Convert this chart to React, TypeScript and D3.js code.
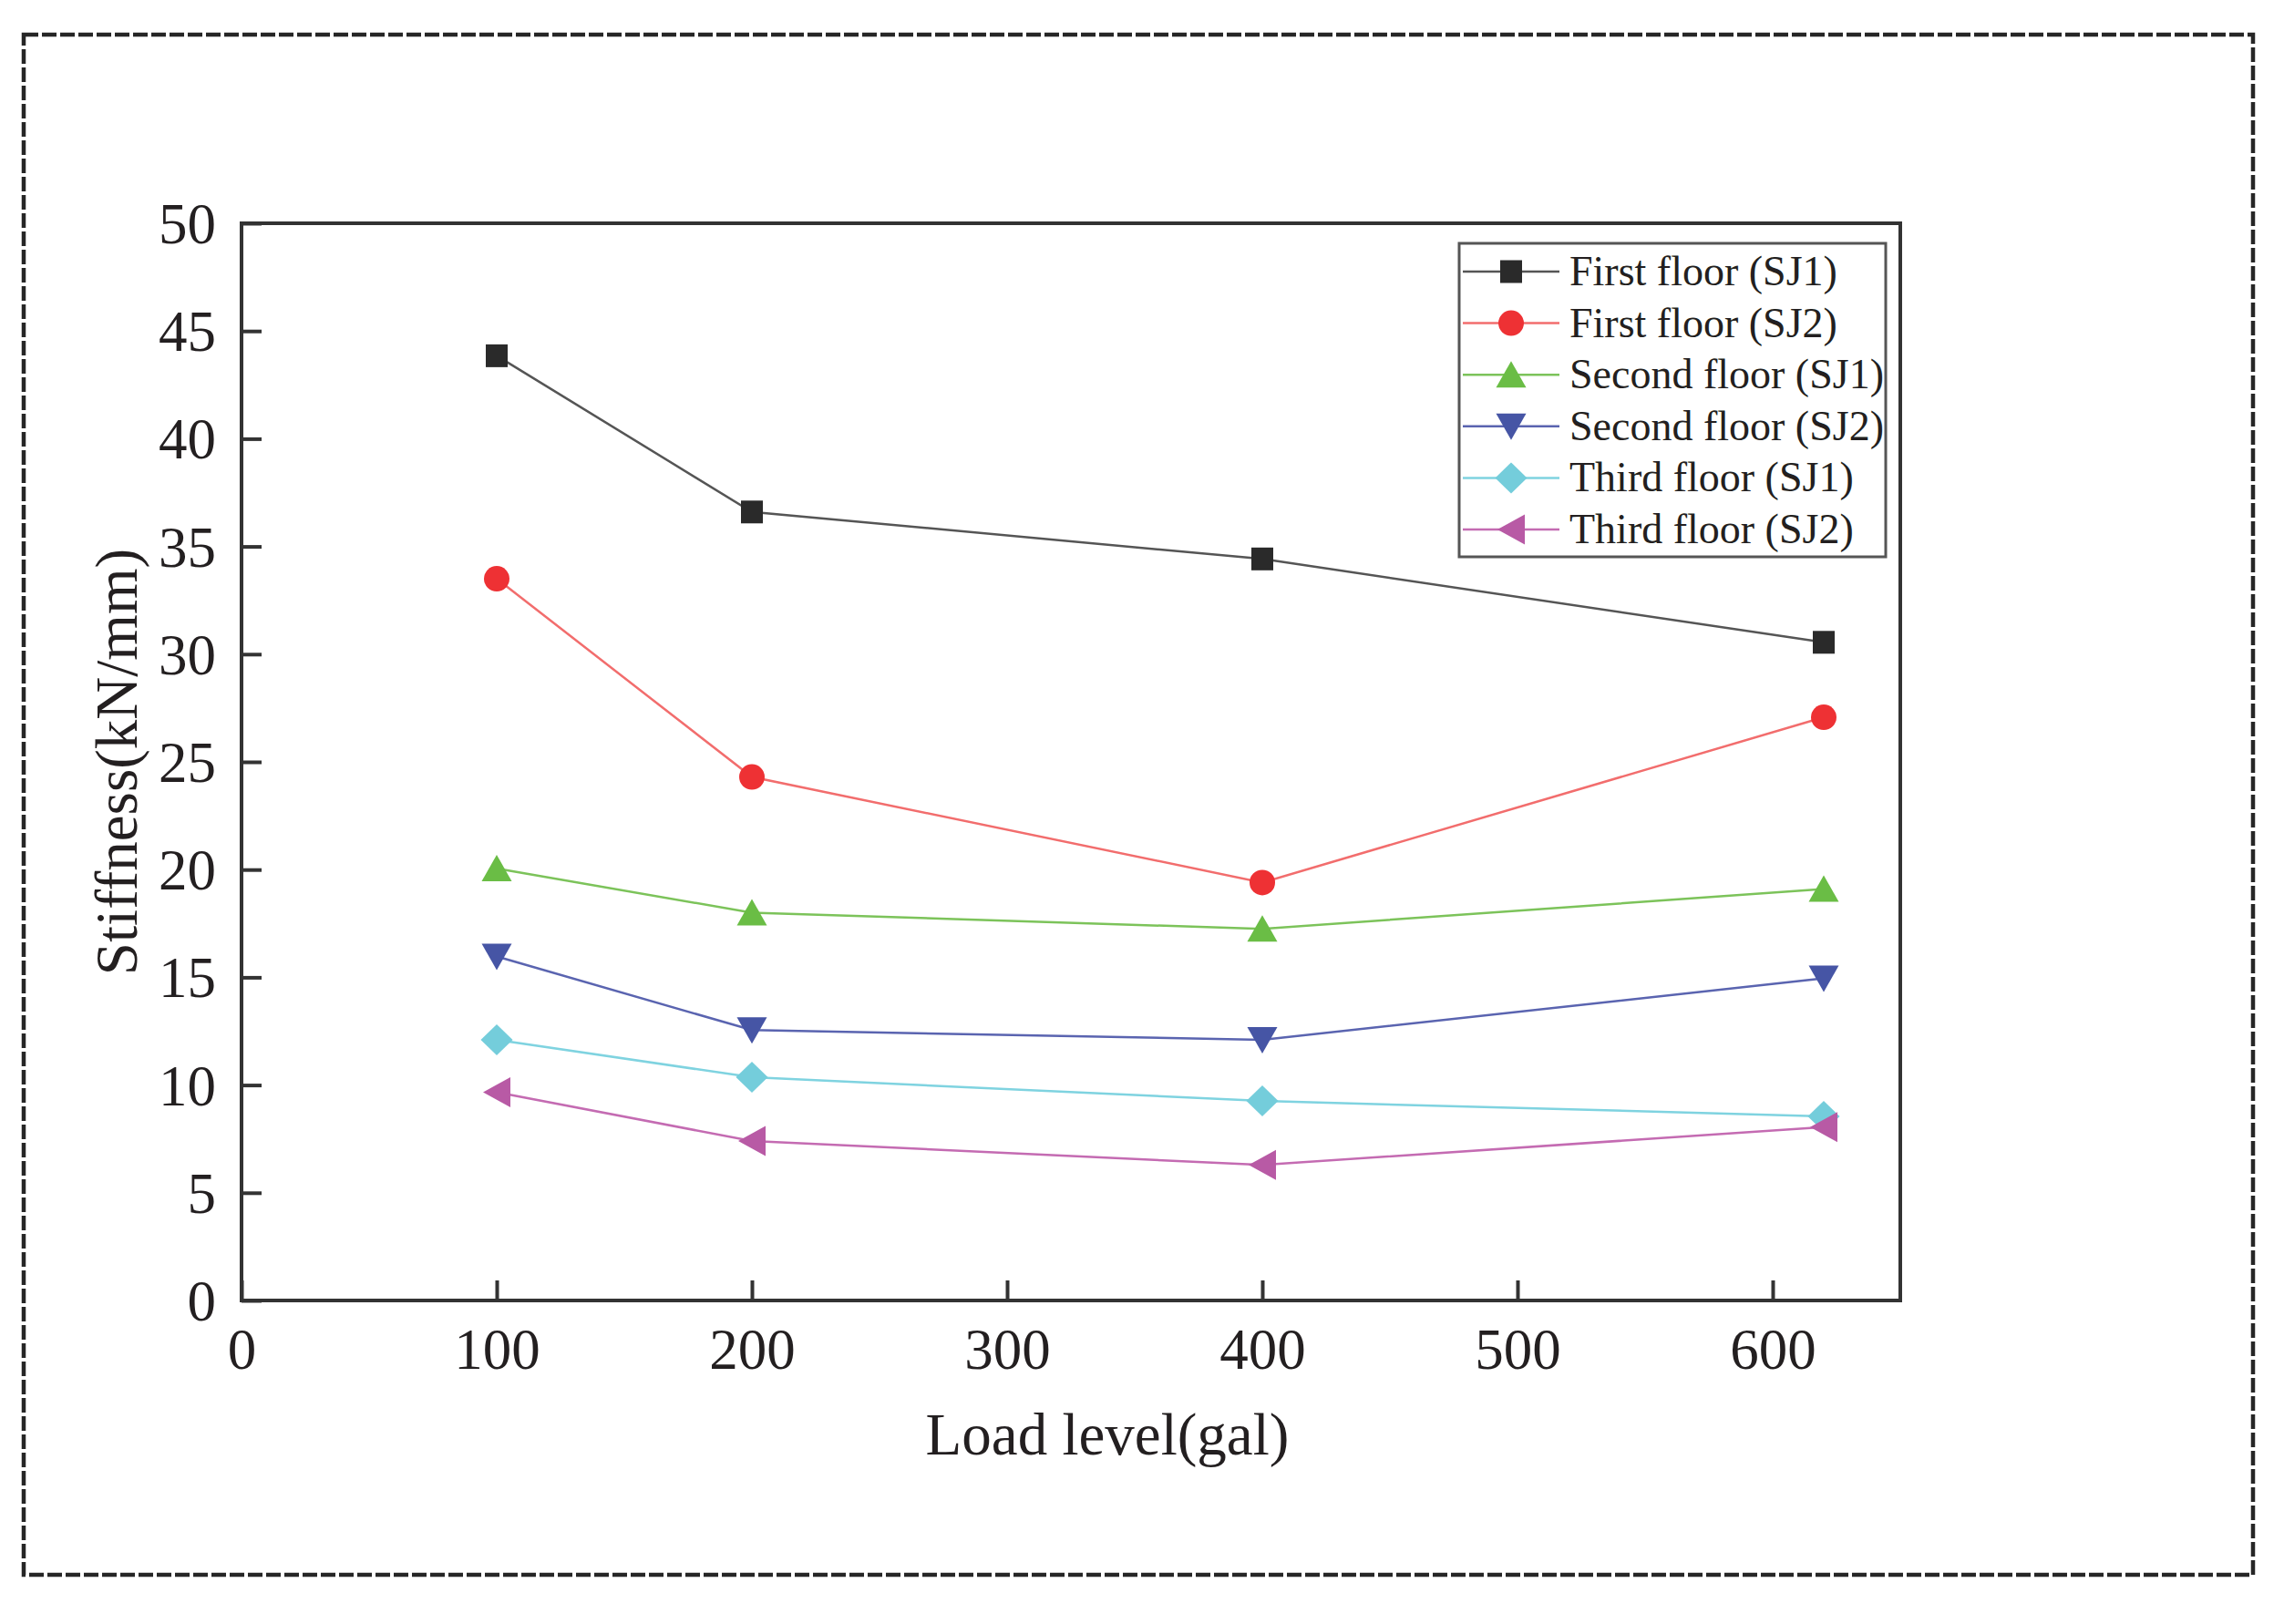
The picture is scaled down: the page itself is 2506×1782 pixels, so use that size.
import { useEffect, useRef } from 'react';
import * as d3 from 'd3';

// Load levels (gal)
const loadLevels = [100, 200, 400, 620];

// Stiffness (kN/mm) per series
const firstSJ1 = [43.85, 36.6, 34.42, 30.55];
const firstSJ2 = [33.5, 24.3, 19.4, 27.07];
const secondSJ1 = [20.05, 18.0, 17.25, 19.1];
const secondSJ2 = [15.97, 12.55, 12.1, 14.95];
const thirdSJ1 = [12.1, 10.36, 9.26, 8.55];
const thirdSJ2 = [9.67, 7.4, 6.29, 8.05];

const seriesNames = [
  'First floor (SJ1)',
  'First floor (SJ2)',
  'Second floor (SJ1)',
  'Second floor (SJ2)',
  'Third floor (SJ1)',
  'Third floor (SJ2)',
];

const xTicks = [0, 100, 200, 300, 400, 500, 600];
const yTicks = [0, 5, 10, 15, 20, 25, 30, 35, 40, 45, 50];

const W = 2506;
const H = 1782;
const FONT = "'Liberation Serif', 'Times New Roman', serif";

type Shape = 'square' | 'circle' | 'up' | 'down' | 'diamond' | 'left';

const series = [
  { name: seriesNames[0], values: firstSJ1, shape: 'square' as Shape, fill: '#2a2a2a', line: '#555555' },
  { name: seriesNames[1], values: firstSJ2, shape: 'circle' as Shape, fill: '#ee3134', line: '#f26d6d' },
  { name: seriesNames[2], values: secondSJ1, shape: 'up' as Shape, fill: '#6abd45', line: '#7cc35a' },
  { name: seriesNames[3], values: secondSJ2, shape: 'down' as Shape, fill: '#4655a5', line: '#5a64b0' },
  { name: seriesNames[4], values: thirdSJ1, shape: 'diamond' as Shape, fill: '#74cddb', line: '#7fd3e0' },
  { name: seriesNames[5], values: thirdSJ2, shape: 'left' as Shape, fill: '#b85aa5', line: '#c46bb2' },
];

// marker outline centred on (0,0)
function markerPath(shape: Shape): string {
  const p = d3.path();
  switch (shape) {
    case 'square':
      p.rect(-12, -12.5, 24, 25);
      break;
    case 'circle':
      p.arc(0, 0, 14, 0, Math.PI * 2);
      break;
    case 'up':
      p.moveTo(0, -15); p.lineTo(16.5, 14); p.lineTo(-16.5, 14); p.closePath();
      break;
    case 'down':
      p.moveTo(0, 15); p.lineTo(16.5, -14); p.lineTo(-16.5, -14); p.closePath();
      break;
    case 'diamond':
      p.moveTo(0, -17); p.lineTo(17.5, 0); p.lineTo(0, 17); p.lineTo(-17.5, 0); p.closePath();
      break;
    case 'left':
      p.moveTo(-15, 0); p.lineTo(15, -16.5); p.lineTo(15, 16.5); p.closePath();
      break;
  }
  return p.toString();
}

function Chart() {
  const ref = useRef<SVGSVGElement>(null);

  useEffect(() => {
    if (!ref.current) return;
    const svg = d3.select(ref.current);
    svg.selectAll('*').remove();

    const left = 265;
    const top = 245;
    const right = 2085;
    const bottom = 1427;

    svg.append('rect').attr('width', W).attr('height', H).attr('fill', 'white');

    // dashed outer frame
    svg
      .append('rect')
      .attr('x', 26)
      .attr('y', 38)
      .attr('width', 2446)
      .attr('height', 1690)
      .attr('fill', 'none')
      .attr('stroke', '#262626')
      .attr('stroke-width', 4.5)
      .attr('stroke-dasharray', '16 4');

    const xScale = d3.scaleLinear().domain([0, 650]).range([left, right]);
    const yScale = d3.scaleLinear().domain([0, 50]).range([bottom, top]);

    // X axis (ticks pointing inward)
    const gx = svg
      .append('g')
      .attr('transform', `translate(0,${bottom})`)
      .call(
        d3
          .axisBottom(xScale)
          .tickValues(xTicks)
          .tickSizeInner(-22)
          .tickSizeOuter(0)
          .tickPadding(30)
      );
    gx.select('.domain').remove();
    gx.selectAll('line').attr('stroke', '#333').attr('stroke-width', 4);
    gx.selectAll('text')
      .attr('fill', '#231f20')
      .style('font-family', FONT)
      .style('font-size', '63px');

    // Y axis
    const gy = svg
      .append('g')
      .attr('transform', `translate(${left},0)`)
      .call(
        d3
          .axisLeft(yScale)
          .tickValues(yTicks)
          .tickSizeInner(-22)
          .tickSizeOuter(0)
          .tickPadding(28)
      );
    gy.select('.domain').remove();
    gy.selectAll('line').attr('stroke', '#333').attr('stroke-width', 4);
    gy.selectAll('text')
      .attr('fill', '#231f20')
      .attr('dy', '0.34em')
      .style('font-family', FONT)
      .style('font-size', '63px');

    // plot frame
    svg
      .append('rect')
      .attr('x', left)
      .attr('y', top)
      .attr('width', right - left)
      .attr('height', bottom - top)
      .attr('fill', 'none')
      .attr('stroke', '#333')
      .attr('stroke-width', 4);

    // axis titles
    svg
      .append('text')
      .attr('x', 1215)
      .attr('y', 1596)
      .attr('text-anchor', 'middle')
      .attr('fill', '#231f20')
      .style('font-family', FONT)
      .style('font-size', '65px')
      .text('Load level(gal)');

    svg
      .append('text')
      .attr('transform', `translate(150,${(top + bottom) / 2}) rotate(-90)`)
      .attr('text-anchor', 'middle')
      .attr('fill', '#231f20')
      .style('font-family', FONT)
      .style('font-size', '65px')
      .text('Stiffness(kN/mm)');

    // lines + markers
    const line = d3
      .line<number>()
      .x((_, i) => xScale(loadLevels[i]))
      .y((d) => yScale(d));

    series.forEach((s) => {
      svg
        .append('path')
        .datum(s.values)
        .attr('fill', 'none')
        .attr('stroke', s.line)
        .attr('stroke-width', 2.5)
        .attr('d', line);
    });

    series.forEach((s) => {
      svg
        .append('g')
        .selectAll('path')
        .data(s.values)
        .enter()
        .append('path')
        .attr('transform', (d, i) => `translate(${xScale(loadLevels[i])},${yScale(d)})`)
        .attr('d', markerPath(s.shape))
        .attr('fill', s.fill);
    });

    // legend
    const legend = svg.append('g');
    legend
      .append('rect')
      .attr('x', 1601)
      .attr('y', 267)
      .attr('width', 468)
      .attr('height', 344)
      .attr('fill', 'white')
      .attr('stroke', '#555')
      .attr('stroke-width', 3);

    const rowY = d3.scalePoint<string>().domain(seriesNames).range([298, 581]);

    const items = legend
      .selectAll('.legend-item')
      .data(series)
      .enter()
      .append('g')
      .attr('class', 'legend-item')
      .attr('transform', (d) => `translate(0,${rowY(d.name)})`);

    items
      .append('line')
      .attr('x1', 1605)
      .attr('x2', 1711)
      .attr('stroke', (d) => d.line)
      .attr('stroke-width', 2.5);

    items
      .append('path')
      .attr('transform', 'translate(1658,0)')
      .attr('d', (d) => markerPath(d.shape))
      .attr('fill', (d) => d.fill);

    items
      .append('text')
      .attr('x', 1722)
      .attr('y', 15)
      .attr('fill', '#231f20')
      .style('font-family', FONT)
      .style('font-size', '46px')
      .text((d) => d.name);
  }, []);

  return (
    <svg
      ref={ref}
      width={W}
      height={H}
      viewBox={`0 0 ${W} ${H}`}
      style={{ position: 'absolute', left: 0, top: 0, display: 'block' }}
    />
  );
}

export default function App() {
  return <Chart />;
}
